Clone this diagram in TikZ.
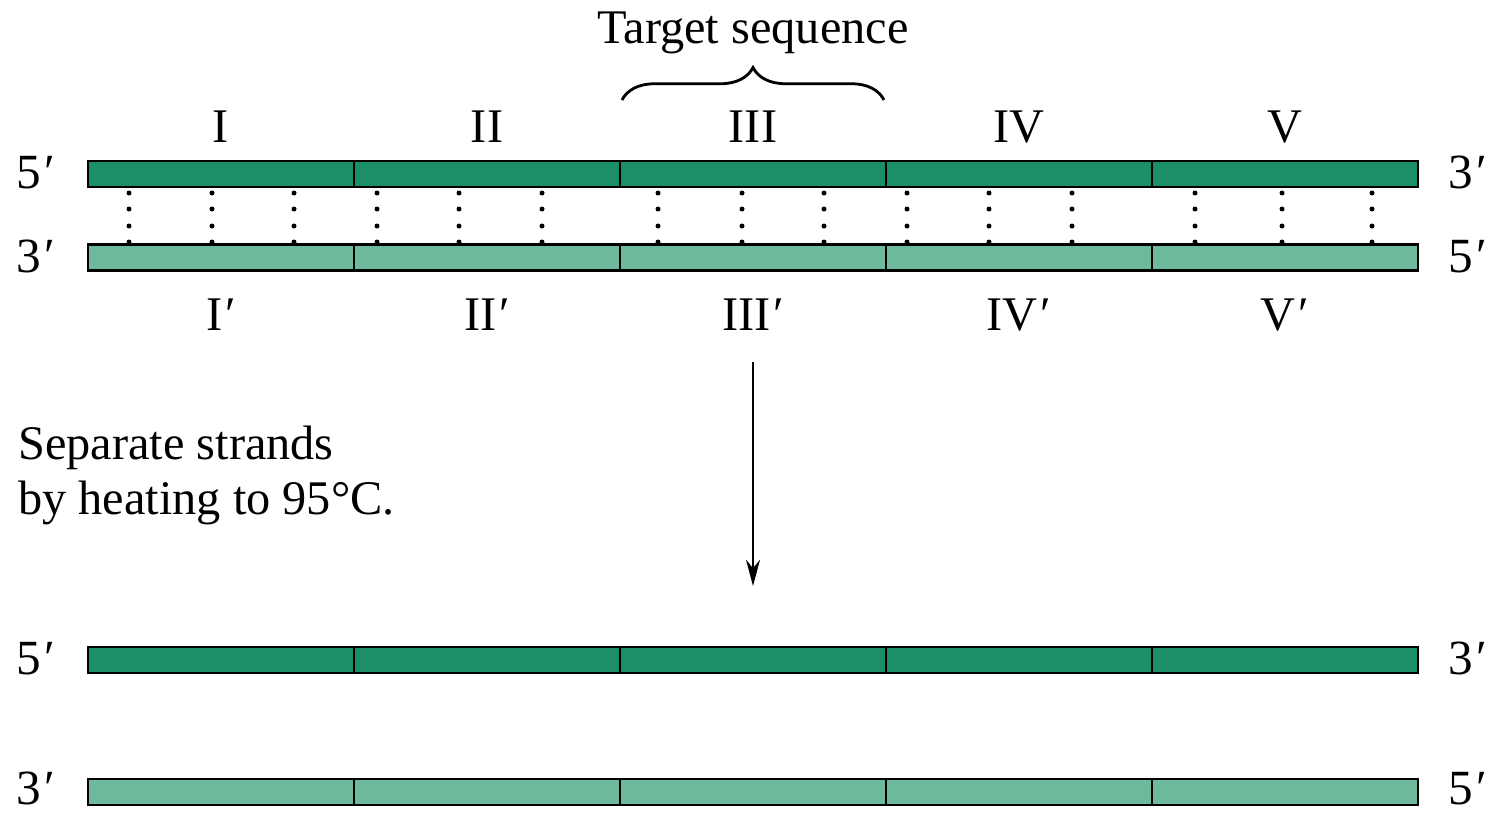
\documentclass[tikz,border=0pt]{standalone}
\usepackage{fontspec}
\setmainfont{Liberation Serif}
\usetikzlibrary{arrows.meta,decorations.pathreplacing,calc}
\definecolor{darkstrand}{RGB}{27,144,104}
\definecolor{lightstrand}{RGB}{110,184,156}
\newcommand{\pr}{\kern0.06em′}
\tikzset{
  seg/.style={draw=black, line width=1.2pt, minimum width=5.32cm, minimum height=0.52cm, inner sep=0pt, outer sep=0pt},
  topseg/.style={seg, fill=darkstrand},
  botseg/.style={seg, fill=lightstrand},
  lbl/.style={font=\fontsize{27.5}{31}\selectfont, inner sep=0pt},
  endlbl/.style={font=\fontsize{28}{31}\selectfont, inner sep=0pt},
  dot/.style={fill=black},
}
\begin{document}
\begin{tikzpicture}[x=0.02cm,y=-0.02cm]
\useasboundingbox (0,0) rectangle (1503,812);
% upper duplex
\foreach \i/\cx in {1/221,2/487,3/753,4/1019,5/1285}{
  \node[topseg] (t\i) at (\cx,174) {};
  \node[botseg] (b\i) at (\cx,257.5) {};
  \node[topseg] (u\i) at (\cx,660) {};
  \node[botseg] (l\i) at (\cx,792) {};
}
% hydrogen bonds (dotted)
\foreach \x in {129,212,294,377,459,542,658,742,824,907,989,1072,1195,1282,1372}{
  \foreach \y in {193,209,226,242}{
    \fill[dot] (\x,\y) circle (2.5);
  }
}
% roman numerals
\foreach \i/\t in {1/I,2/II,3/III,4/IV,5/V}{
  \node[lbl, anchor=base] (n\i) at ($(t\i.north)+(0,-19)$) {\t};
  \node[lbl, anchor=base] (p\i) at ($(b\i.south)+(0,60)$) {\t\pr};
}
% end labels
\node[endlbl, anchor=base] (e1) at (36,188) {5\pr};
\node[endlbl, anchor=base] (e2) at (36,272) {3\pr};
\node[endlbl, anchor=base] (e3) at (1468,188) {3\pr};
\node[endlbl, anchor=base] (e4) at (1468,272) {5\pr};
\node[endlbl, anchor=base] (e5) at (36,674) {5\pr};
\node[endlbl, anchor=base] (e6) at (36,804) {3\pr};
\node[endlbl, anchor=base] (e7) at (1468,674) {3\pr};
\node[endlbl, anchor=base] (e8) at (1468,804) {5\pr};
% brace and target label
\coordinate (bl) at (622,100);
\coordinate (br) at (884,100);
\draw[line width=1.6pt, decorate, decoration={brace, amplitude=0.65cm}] (bl) -- (br);
\node[lbl, anchor=base] (tgt) at (753,43) {Target sequence};
% arrow
\coordinate (as) at (753,362);
\coordinate (ae) at (753,586);
\draw[line width=1.1pt, -{Stealth[length=15pt,width=8pt]}] (as) -- (ae);
% step text
\node[lbl, anchor=north west, align=left, font=\fontsize{27.5}{31}\selectfont] (step) at (18,426) {Separate strands\\by heating to 95°C.};
\end{tikzpicture}
\end{document}
